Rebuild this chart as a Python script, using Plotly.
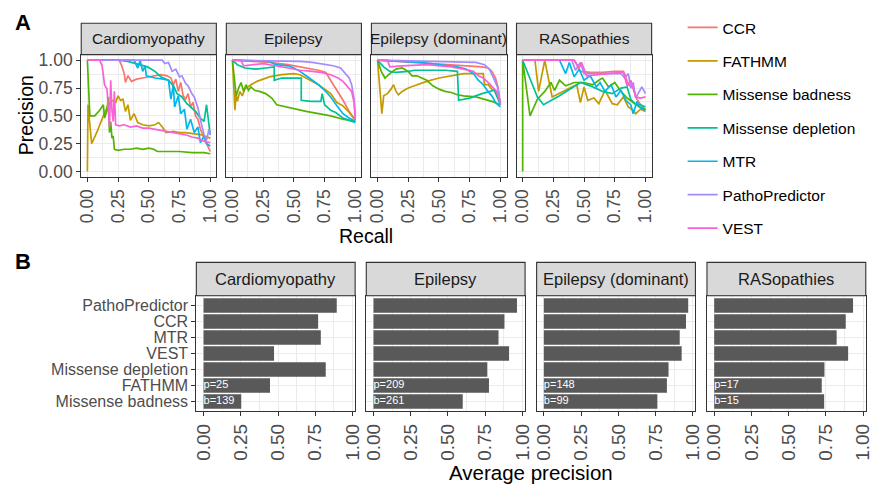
import plotly.graph_objects as go

# ---------------- DATA ----------------
methods = ["CCR", "FATHMM", "Missense badness", "Missense depletion", "MTR", "PathoPredictor", "VEST"]
method_colors = ["#F8766D", "#C49A00", "#53B400", "#00C094", "#00B6EB", "#A58AFF", "#FB61D7"]
diseases = ["Cardiomyopathy", "Epilepsy", "Epilepsy (dominant)", "RASopathies"]
tick_vals = [0, 0.25, 0.5, 0.75, 1.0]
tick_text = ["0.00", "0.25", "0.50", "0.75", "1.00"]

# Precision-recall curves: (recall, precision) pairs
cardio_ccr = [(0,1),(0.26,1),(0.28,0.95),(0.3,0.88),(0.31,0.8),(0.33,0.86),(0.36,0.81),(0.4,0.83),(0.45,0.84),(0.5,0.85),(0.55,0.86),(0.6,0.87),(0.65,0.86),(0.68,0.84),(0.7,0.78),(0.72,0.83),(0.74,0.72),(0.76,0.8),(0.78,0.68),(0.8,0.65),(0.82,0.7),(0.84,0.58),(0.86,0.62),(0.88,0.5),(0.9,0.47),(0.92,0.38),(0.95,0.3),(0.97,0.25),(1.0,0.18)]
cardio_fathmm = [(0,0),(0.005,0.6),(0.035,0.25),(0.08,0.36),(0.13,0.5),(0.17,0.6),(0.2,0.64),(0.23,0.62),(0.25,0.68),(0.27,0.64),(0.29,0.65),(0.31,0.54),(0.33,0.6),(0.35,0.46),(0.38,0.52),(0.41,0.44),(0.45,0.42),(0.5,0.41),(0.55,0.42),(0.58,0.44),(0.61,0.4),(0.64,0.35),(0.7,0.36),(0.75,0.35),(0.8,0.35),(0.87,0.34),(0.93,0.33),(1.0,0.3)]
cardio_mb = [(0,1),(0.02,0.5),(0.06,0.5),(0.1,0.55),(0.13,0.6),(0.14,0.48),(0.16,0.55),(0.17,0.67),(0.18,0.35),(0.19,0.45),(0.2,0.3),(0.21,0.32),(0.22,0.2),(0.25,0.19),(0.3,0.2),(0.35,0.2),(0.4,0.21),(0.45,0.2),(0.5,0.21),(0.54,0.2),(0.57,0.18),(0.65,0.18),(0.75,0.18),(0.85,0.17),(0.95,0.17),(1.0,0.16)]
cardio_md = [(0,1),(0.25,1),(0.33,0.99),(0.4,0.97),(0.49,0.94),(0.55,0.9),(0.6,0.85),(0.66,0.82),(0.7,0.77),(0.73,0.7),(0.77,0.67),(0.81,0.61),(0.85,0.57),(0.88,0.54),(0.92,0.48),(0.95,0.45),(0.97,0.6),(0.98,0.5),(1.0,0.33)]
cardio_mtr = [(0,1),(0.38,1),(0.41,0.93),(0.43,1.0),(0.45,0.9),(0.47,0.95),(0.48,0.86),(0.55,0.84),(0.62,0.83),(0.66,0.82),(0.68,0.65),(0.7,0.78),(0.71,0.58),(0.74,0.68),(0.76,0.52),(0.79,0.56),(0.81,0.38),(0.84,0.47),(0.87,0.35),(0.9,0.4),(0.92,0.26),(0.95,0.32),(0.97,0.25),(1.0,0.23)]
cardio_pp = [(0,1),(0.61,1),(0.63,0.97),(0.66,0.98),(0.69,0.9),(0.72,0.92),(0.75,0.85),(0.77,0.86),(0.8,0.79),(0.82,0.77),(0.85,0.7),(0.87,0.67),(0.9,0.57),(0.92,0.46),(0.93,0.42),(0.95,0.33),(0.97,0.28),(0.99,0.38),(1.0,0.33)]
cardio_vest = [(0,1),(0.1,1),(0.12,0.95),(0.14,0.78),(0.16,0.74),(0.17,0.55),(0.18,0.4),(0.19,0.82),(0.2,0.55),(0.21,0.45),(0.22,0.72),(0.23,0.42),(0.26,0.41),(0.3,0.42),(0.35,0.4),(0.4,0.41),(0.45,0.39),(0.5,0.39),(0.55,0.38),(0.6,0.37),(0.65,0.36),(0.7,0.35),(0.75,0.34),(0.8,0.33),(0.85,0.31),(0.9,0.3),(0.95,0.27),(1.0,0.26)]

epi_ccr = [(0,1),(0.2,0.99),(0.3,0.98),(0.45,0.96),(0.55,0.94),(0.62,0.93),(0.7,0.91),(0.76,0.89),(0.8,0.82),(0.85,0.73),(0.9,0.64),(0.95,0.54),(1.0,0.46)]
epi_fathmm = [(0,1),(0.02,0.55),(0.03,0.7),(0.04,0.63),(0.06,0.72),(0.08,0.68),(0.1,0.74),(0.15,0.78),(0.2,0.81),(0.3,0.85),(0.4,0.87),(0.5,0.88),(0.55,0.87),(0.6,0.84),(0.65,0.81),(0.7,0.78),(0.75,0.74),(0.8,0.7),(0.85,0.62),(0.9,0.59),(0.95,0.53),(1.0,0.46)]
epi_mb = [(0,1),(0.03,0.68),(0.05,0.75),(0.07,0.8),(0.09,0.72),(0.11,0.78),(0.13,0.73),(0.15,0.76),(0.18,0.73),(0.22,0.72),(0.27,0.7),(0.32,0.66),(0.36,0.6),(0.4,0.59),(0.5,0.56),(0.6,0.54),(0.7,0.52),(0.8,0.5),(0.9,0.47),(1.0,0.45)]
epi_md = [(0,1),(0.04,0.96),(0.1,0.93),(0.19,0.92),(0.27,0.93),(0.34,0.94),(0.34,0.82),(0.4,0.84),(0.5,0.84),(0.56,0.84),(0.56,0.64),(0.64,0.63),(0.72,0.63),(0.73,0.7),(0.75,0.6),(0.8,0.55),(0.84,0.53),(0.9,0.48),(0.95,0.46),(1.0,0.44)]
epi_mtr = [(0,1),(0.3,0.99),(0.35,0.96),(0.45,0.95),(0.5,0.93),(0.55,0.9),(0.6,0.86),(0.65,0.82),(0.7,0.78),(0.75,0.73),(0.8,0.67),(0.85,0.59),(0.9,0.52),(0.95,0.48),(1.0,0.45)]
epi_pp = [(0,1),(0.55,0.99),(0.65,0.98),(0.75,0.96),(0.82,0.95),(0.88,0.93),(0.92,0.88),(0.95,0.84),(0.97,0.78),(0.99,0.65),(1.0,0.48)]
epi_vest = [(0,1),(0.07,1),(0.09,0.95),(0.15,0.96),(0.25,0.97),(0.35,0.95),(0.45,0.93),(0.55,0.91),(0.65,0.9),(0.72,0.89),(0.8,0.87),(0.86,0.84),(0.9,0.81),(0.94,0.76),(0.97,0.72),(0.99,0.62),(1.0,0.47)]

epid_ccr = [(0,1),(0.3,0.98),(0.6,0.96),(0.75,0.95),(0.85,0.94),(0.9,0.93),(0.93,0.9),(0.96,0.84),(0.98,0.76),(1.0,0.6)]
epid_fathmm = [(0,1),(0.02,0.72),(0.035,0.52),(0.05,0.68),(0.08,0.7),(0.11,0.74),(0.13,0.78),(0.15,0.72),(0.17,0.69),(0.2,0.72),(0.25,0.75),(0.3,0.77),(0.4,0.81),(0.5,0.84),(0.6,0.86),(0.7,0.88),(0.8,0.88),(0.86,0.88),(0.87,0.78),(0.9,0.78),(0.93,0.74),(0.96,0.72),(0.98,0.68),(1.0,0.61)]
epid_mb = [(0,1),(0.03,0.9),(0.06,0.84),(0.1,0.88),(0.15,0.92),(0.2,0.93),(0.25,0.9),(0.28,0.86),(0.32,0.86),(0.36,0.84),(0.4,0.82),(0.45,0.77),(0.5,0.74),(0.55,0.72),(0.6,0.71),(0.65,0.69),(0.7,0.68),(0.8,0.67),(0.87,0.65),(0.93,0.63),(1.0,0.6)]
epid_md = [(0,1),(0.05,0.94),(0.1,0.9),(0.15,0.89),(0.25,0.9),(0.3,0.91),(0.4,0.91),(0.55,0.91),(0.65,0.9),(0.66,0.64),(0.75,0.66),(0.85,0.7),(0.95,0.73),(0.97,0.68),(1.0,0.6)]
epid_mtr = [(0,1),(0.35,0.98),(0.5,0.96),(0.65,0.94),(0.72,0.92),(0.78,0.88),(0.82,0.82),(0.86,0.78),(0.9,0.72),(0.93,0.68),(0.96,0.62),(1.0,0.58)]
epid_pp = [(0,1),(0.5,0.99),(0.8,0.98),(0.87,0.96),(0.91,0.92),(0.94,0.85),(0.96,0.8),(0.98,0.75),(1.0,0.6)]
epid_vest = [(0,1),(0.08,1),(0.1,0.94),(0.2,0.95),(0.4,0.96),(0.6,0.94),(0.7,0.92),(0.78,0.9),(0.82,0.86),(0.86,0.84),(0.9,0.8),(0.94,0.75),(0.97,0.72),(1.0,0.62)]

ras_ccr = [(0,1),(0.42,1),(0.47,0.9),(0.55,0.89),(0.65,0.89),(0.75,0.9),(0.82,0.9),(0.83,0.88),(0.86,0.78),(0.9,0.75),(0.93,0.65),(0.96,0.6),(1.0,0.55)]
ras_fathmm = [(0,1),(0.1,1),(0.13,0.72),(0.18,1.0),(0.24,0.67),(0.29,0.7),(0.33,0.72),(0.4,0.76),(0.44,0.78),(0.47,0.62),(0.5,0.76),(0.53,0.64),(0.58,0.66),(0.62,0.61),(0.67,0.73),(0.73,0.61),(0.77,0.6),(0.82,0.67),(0.86,0.58),(0.9,0.55),(0.92,0.52),(0.96,0.56),(1.0,0.54)]
ras_mb = [(0,0),(0,1),(0.06,0.5),(0.12,0.65),(0.18,0.72),(0.23,0.8),(0.26,0.73),(0.3,0.82),(0.35,0.77),(0.42,0.8),(0.5,0.8),(0.57,0.78),(0.62,0.82),(0.65,0.84),(0.7,0.76),(0.75,0.8),(0.8,0.72),(0.85,0.66),(0.9,0.62),(0.95,0.58),(1.0,0.56)]
ras_md = [(0,1),(0.12,0.67),(0.17,0.6),(0.3,0.68),(0.4,0.75),(0.47,0.8),(0.55,0.77),(0.65,0.72),(0.73,0.7),(0.8,0.75),(0.85,0.76),(0.88,0.65),(0.92,0.6),(0.96,0.6),(1.0,0.58)]
ras_mtr = [(0,1),(0.3,1),(0.35,0.88),(0.38,0.98),(0.42,0.85),(0.46,0.92),(0.5,0.82),(0.55,0.86),(0.6,0.76),(0.63,0.8),(0.67,0.72),(0.72,0.78),(0.76,0.67),(0.8,0.73),(0.84,0.64),(0.88,0.6),(0.9,0.52),(0.93,0.63),(0.96,0.57),(1.0,0.55)]
ras_pp = [(0,1),(0.4,1),(0.43,0.91),(0.47,0.98),(0.5,0.88),(0.6,0.88),(0.7,0.88),(0.8,0.88),(0.83,0.84),(0.86,0.88),(0.88,0.75),(0.9,0.8),(0.92,0.66),(0.95,0.72),(0.97,0.76),(1.0,0.7)]
ras_vest = [(0,1),(0.42,1),(0.46,0.93),(0.48,0.98),(0.52,0.86),(0.6,0.87),(0.7,0.88),(0.8,0.89),(0.82,0.89),(0.85,0.77),(0.88,0.82),(0.92,0.67),(0.96,0.66),(1.0,0.67)]

curves = {
    "Cardiomyopathy": [cardio_ccr, cardio_fathmm, cardio_mb, cardio_md, cardio_mtr, cardio_pp, cardio_vest],
    "Epilepsy": [epi_ccr, epi_fathmm, epi_mb, epi_md, epi_mtr, epi_pp, epi_vest],
    "Epilepsy (dominant)": [epid_ccr, epid_fathmm, epid_mb, epid_md, epid_mtr, epid_pp, epid_vest],
    "RASopathies": [ras_ccr, ras_fathmm, ras_mb, ras_md, ras_mtr, ras_pp, ras_vest],
}

# Panel B: average precision, categories listed top to bottom
bar_methods = ["PathoPredictor", "CCR", "MTR", "VEST", "Missense depletion", "FATHMM", "Missense badness"]
ap_cardio = [0.894, 0.769, 0.787, 0.473, 0.820, 0.446, 0.253]
ap_epi = [0.963, 0.879, 0.839, 0.910, 0.764, 0.775, 0.599]
ap_epid = [0.969, 0.954, 0.912, 0.925, 0.837, 0.826, 0.762]
ap_ras = [0.932, 0.883, 0.822, 0.899, 0.740, 0.722, 0.738]
ap_values = [ap_cardio, ap_epi, ap_epid, ap_ras]
n_pathogenic = [25, 209, 148, 17]
n_benign = [139, 261, 99, 15]

# ---------------- LAYOUT ----------------
W, H = 879, 486
FONT = "Liberation Sans, Arial, Helvetica, sans-serif"
def fx(v): return v / W
def fy(v): return 1 - v / H

A_left = [78.3, 225.4, 372.5, 519.6]; A_w = 137.0
A_top, A_bot, A_strip_top = 51.5, 176.0, 19.5
B_left = [195.0, 367.3, 540.0, 712.7]; B_w = 161.0
B_top, B_bot, B_strip_top = 296.7, 414.0, 262.7

GRID = "#EBEBEB"
BORDER = "#333333"
TICKC = "#4D4D4D"

fig = go.Figure()
layout_axes = {}
shapes = []
annotations = []

def axis_common(tickfont_size):
    return dict(showline=True, mirror=True, linecolor=BORDER, linewidth=1.1,
                zeroline=False, showgrid=True, gridcolor=GRID, gridwidth=1.1,
                tickfont=dict(family=FONT, size=tickfont_size, color=TICKC),
                tickcolor=BORDER, ticklen=4, tickwidth=1.1)

minor_vals = [0.125, 0.375, 0.625, 0.875]

# Panel A
for i, d in enumerate(diseases):
    n = i + 1
    xa = "xaxis" if n == 1 else f"xaxis{n}"
    ya = "yaxis" if n == 1 else f"yaxis{n}"
    xs = "x" if n == 1 else f"x{n}"
    ys = "y" if n == 1 else f"y{n}"
    x0, x1 = A_left[i], A_left[i] + A_w
    ax = axis_common(17.5)
    ax.update(domain=[fx(x0), fx(x1)], range=[-0.05, 1.05], anchor=ys,
              tickmode="array", tickvals=tick_vals, ticktext=tick_text,
              tickangle=-90, ticks="outside",
              minor=dict(tickmode="array", tickvals=minor_vals, showgrid=True,
                         gridcolor=GRID, gridwidth=0.6))
    ay = axis_common(17.5)
    ay.update(domain=[fy(A_bot), fy(A_top)], range=[-0.05, 1.05], anchor=xs,
              tickmode="array", tickvals=tick_vals, ticktext=tick_text,
              ticks="outside" if n == 1 else "", showticklabels=(n == 1),
              minor=dict(tickmode="array", tickvals=minor_vals, showgrid=True,
                         gridcolor=GRID, gridwidth=0.6))
    layout_axes[xa] = ax
    layout_axes[ya] = ay
    for m, col, pts in zip(methods, method_colors, curves[d]):
        fig.add_trace(go.Scatter(
            x=[p[0] for p in pts], y=[p[1] for p in pts], mode="lines",
            line=dict(color=col, width=1.7), name=m, legendgroup=m,
            showlegend=(n == 1), xaxis=xs, yaxis=ys, hoverinfo="skip"))
    shapes.append(dict(type="rect", xref="paper", yref="paper",
                       x0=fx(x0), x1=fx(x1), y0=fy(A_top), y1=fy(A_strip_top),
                       fillcolor="#D9D9D9", line=dict(color=BORDER, width=1.1), layer="above"))
    annotations.append(dict(text=d, xref="paper", yref="paper", x=fx((x0 + x1) / 2),
                            y=fy((A_top + A_strip_top) / 2), showarrow=False,
                            xanchor="center", yanchor="middle",
                            font=dict(family=FONT, size=15.5, color="#1A1A1A")))

# Panel B
cat_bottom_first = bar_methods[::-1]
ap_max = max(max(v) for v in ap_values)
b_range = [-0.05 * ap_max, ap_max * 1.05]
for i, d in enumerate(diseases):
    n = i + 5
    xs, ys = f"x{n}", f"y{n}"
    x0, x1 = B_left[i], B_left[i] + B_w
    ax = axis_common(19)
    ax.update(domain=[fx(x0), fx(x1)], range=b_range, anchor=ys,
              tickmode="array", tickvals=tick_vals, ticktext=tick_text,
              tickangle=-90, ticks="outside",
              minor=dict(tickmode="array", tickvals=minor_vals, showgrid=True,
                         gridcolor=GRID, gridwidth=0.6))
    ay = axis_common(16)
    ay.update(domain=[fy(B_bot), fy(B_top)], anchor=xs, type="category",
              categoryorder="array", categoryarray=cat_bottom_first,
              tickmode="array", tickvals=cat_bottom_first, ticktext=cat_bottom_first,
              range=[-0.6, len(bar_methods) - 0.4],
              ticks="outside" if i == 0 else "", showticklabels=(i == 0))
    layout_axes[f"xaxis{n}"] = ax
    layout_axes[f"yaxis{n}"] = ay
    fig.add_trace(go.Bar(x=ap_values[i], y=bar_methods, orientation="h",
                         marker=dict(color="#595959", line=dict(width=0)),
                         width=0.9, xaxis=xs, yaxis=ys, showlegend=False,
                         hoverinfo="skip"))
    fig.add_trace(go.Scatter(x=[0, 0], y=["FATHMM", "Missense badness"],
                             text=[f"p={n_pathogenic[i]}", f"b={n_benign[i]}"],
                             mode="text", textposition="middle right",
                             textfont=dict(family=FONT, size=11, color="white"),
                             xaxis=xs, yaxis=ys, showlegend=False, hoverinfo="skip"))
    shapes.append(dict(type="rect", xref="paper", yref="paper",
                       x0=fx(x0), x1=fx(x1), y0=fy(B_top), y1=fy(B_strip_top),
                       fillcolor="#D9D9D9", line=dict(color=BORDER, width=1.1), layer="above"))
    annotations.append(dict(text=d, xref="paper", yref="paper", x=fx((x0 + x1) / 2),
                            y=fy((B_top + B_strip_top) / 2), showarrow=False,
                            xanchor="center", yanchor="middle",
                            font=dict(family=FONT, size=16.5, color="#1A1A1A")))

# Titles and panel letters
annotations += [
    dict(text="Precision", xref="paper", yref="paper", x=fx(22), y=fy(113.5), textangle=-90,
         showarrow=False, xanchor="center", yanchor="middle", font=dict(family=FONT, size=19.5, color="black")),
    dict(text="Recall", xref="paper", yref="paper", x=fx(367), y=fy(236), showarrow=False,
         xanchor="center", yanchor="middle", font=dict(family=FONT, size=19.5, color="black")),
    dict(text="Average precision", xref="paper", yref="paper", x=fx(534), y=fy(476), showarrow=False,
         xanchor="center", yanchor="middle", font=dict(family=FONT, size=20.5, color="black")),
    dict(text="<b>A</b>", xref="paper", yref="paper", x=fx(9), y=fy(19), showarrow=False,
         xanchor="left", yanchor="middle", font=dict(family=FONT, size=22, color="black")),
    dict(text="<b>B</b>", xref="paper", yref="paper", x=fx(9), y=fy(262), showarrow=False,
         xanchor="left", yanchor="middle", font=dict(family=FONT, size=22, color="black")),
]

fig.update_layout(
    width=W, height=H, margin=dict(l=0, r=0, t=0, b=0),
    paper_bgcolor="white", plot_bgcolor="white",
    font=dict(family=FONT),
    shapes=shapes, annotations=annotations,
    legend=dict(x=fx(688), y=fy(7), xanchor="left", yanchor="top",
                font=dict(family=FONT, size=15.5, color="black"),
                tracegroupgap=10.3, itemwidth=30, bgcolor="rgba(0,0,0,0)"),
    bargap=0.1,
    **layout_axes,
)

fig.write_html("out.html")
